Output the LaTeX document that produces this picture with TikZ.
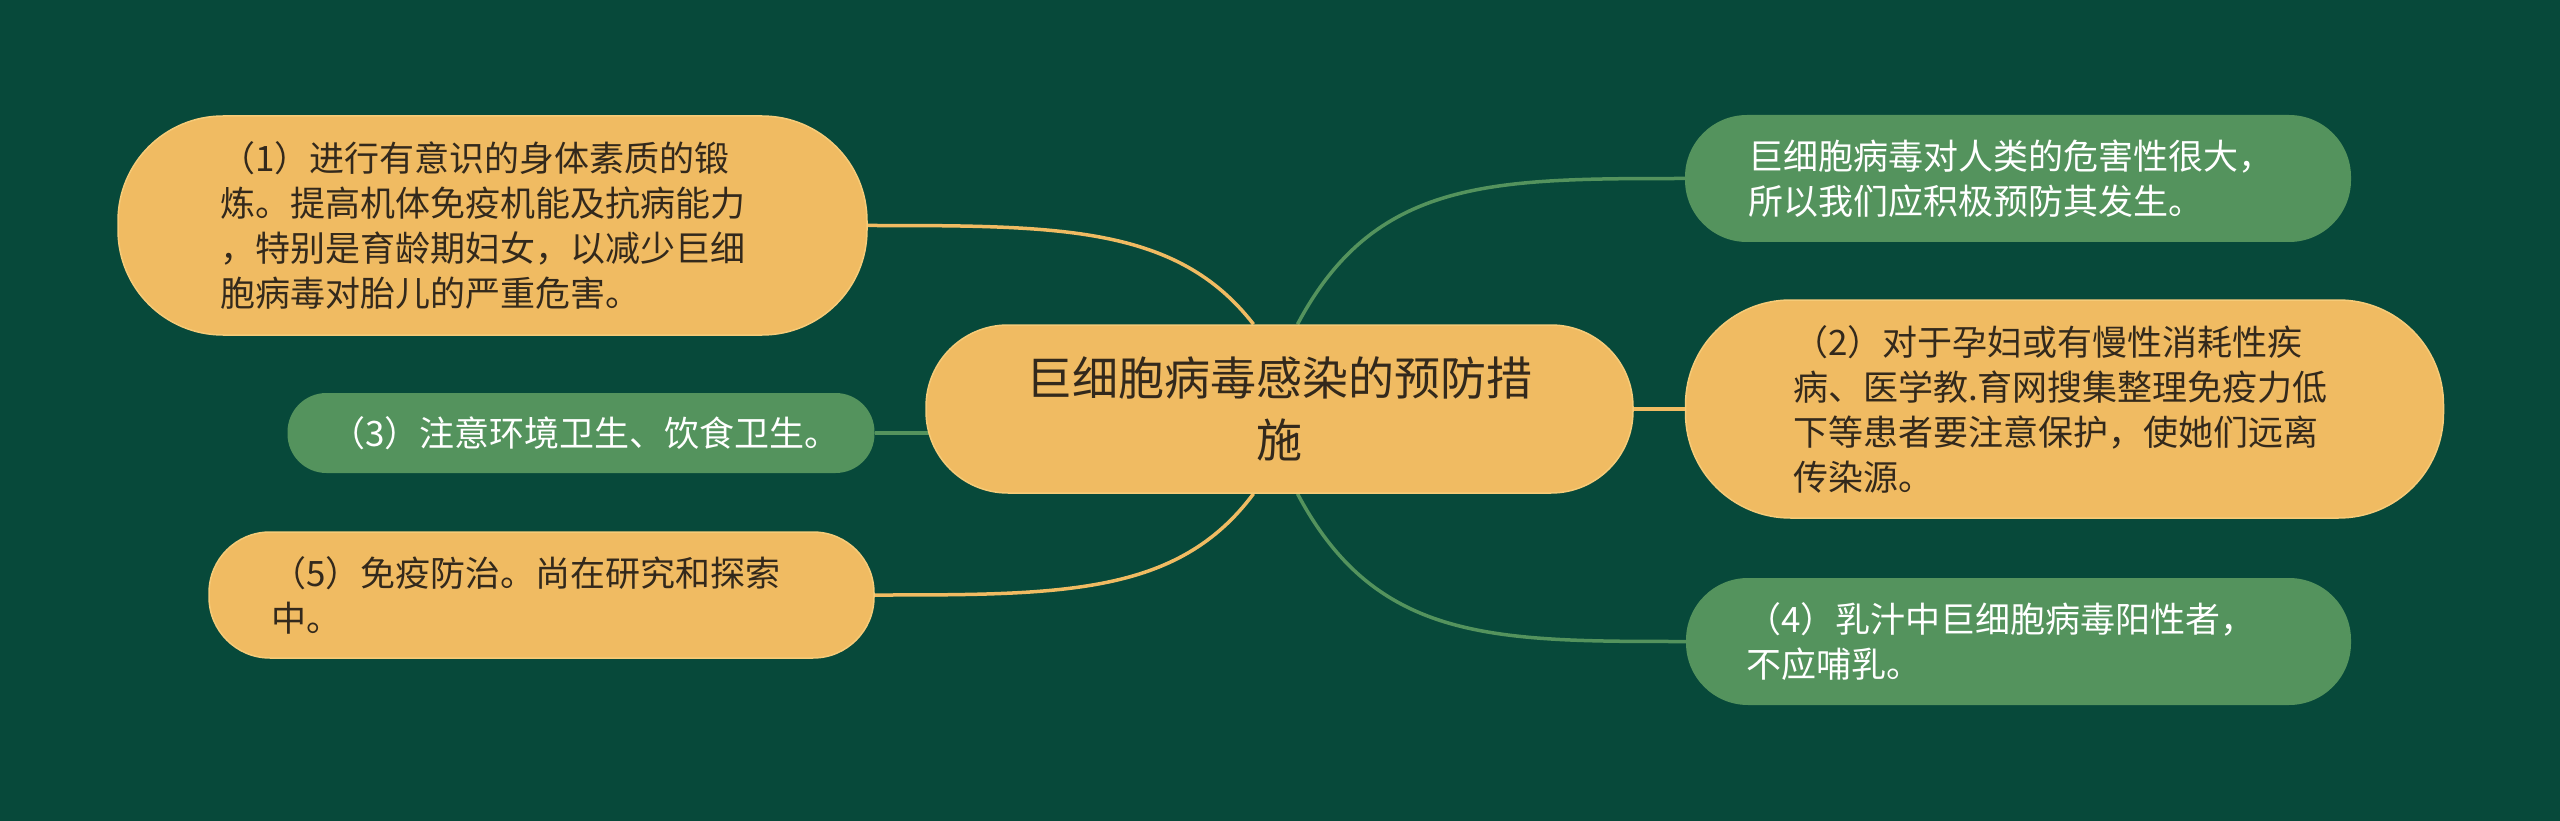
\documentclass[tikz,border=0pt]{standalone}
\usepackage{fontspec}
\newfontfamily\cjk{Noto Sans CJK SC}
\usetikzlibrary{calc,backgrounds}
\definecolor{bgc}{HTML}{07493A}
\definecolor{ylw}{HTML}{F0BB62}
\definecolor{ylwedge}{HTML}{F6CB78}
\definecolor{grn}{HTML}{54935D}
\definecolor{txtd}{HTML}{33291C}
\begin{document}
\begin{tikzpicture}[x=1pt,y=-1pt,
  pillbase/.style={rectangle, inner sep=0pt, align=left,
    font=\fontsize{35}{45}\selectfont\cjk},
  ypill/.style={pillbase, fill=ylw, draw=ylwedge, line width=1.5pt, text=txtd},
  gpill/.style={pillbase, fill=grn, draw=none, text=white},
  yconn/.style={draw=ylw, line width=3.5pt},
  gconn/.style={draw=grn, line width=3.5pt}]
\useasboundingbox (0,0) rectangle (2560,821);

% central node
\node[ypill, align=center, font=\fontsize{46}{62}\selectfont\cjk,
  minimum width=707pt, minimum height=168pt, rounded corners=82pt, text width=560pt]
  (C) at (1279.5,409) {巨细胞病毒感染的预防措\\施};

% left side
\node[ypill, minimum width=749pt, minimum height=219pt, rounded corners=105pt, text width=545pt]
  (A1) at (492.5,225.5) {（1）进行有意识的身体素质的锻\\炼。提高机体免疫机能及抗病能力\\，特别是育龄期妇女，以减少巨细\\胞病毒对胎儿的严重危害。};
\node[gpill, minimum width=587pt, minimum height=80pt, rounded corners=39pt, text width=502pt]
  (A3) at (581,433) {（3）注意环境卫生、饮食卫生。};
\node[ypill, minimum width=665pt, minimum height=126pt, rounded corners=61pt, text width=541pt]
  (A5) at (541.5,595) {（5）免疫防治。尚在研究和探索\\中。};

% right side
\node[gpill, minimum width=666pt, minimum height=127pt, rounded corners=62pt, text width=540pt]
  (B1) at (2018,178.5) {巨细胞病毒对人类的危害性很大，\\所以我们应积极预防其发生。};
\node[ypill, minimum width=758pt, minimum height=218pt, rounded corners=105pt, text width=543pt]
  (B2) at (2064.5,409) {（2）对于孕妇或有慢性消耗性疾\\病、医学教.育网搜集整理免疫力低\\下等患者要注意保护，使她们远离\\传染源。};
\node[gpill, minimum width=665pt, minimum height=127pt, rounded corners=62pt, text width=545pt]
  (B4) at (2018.5,641.5) {（4）乳汁中巨细胞病毒阳性者，\\不应哺乳。};

\begin{scope}[on background layer]
  \fill[bgc] (0,0) rectangle (2560,821);
  \draw[yconn] ($(C.north)+(-26,0)$) .. controls (1177,225.5) and (1060,225.5) .. (A1.east);
  \draw[gconn] (A3.east) -- ($(A3.east -| C.west)+(30,0)$);
  \draw[yconn] ($(C.south)+(-26,0)$) .. controls (1178,595) and (1064,595) .. (A5.east);
  \draw[gconn] ($(C.north)+(18,0)$) .. controls (1375,178.5) and (1491,178.5) .. (B1.west);
  \draw[yconn] (C.east) -- (B2.west);
  \draw[gconn] ($(C.south)+(18,0)$) .. controls (1376,641.5) and (1492,641.5) .. (B4.west);
\end{scope}
\end{tikzpicture}
\end{document}
